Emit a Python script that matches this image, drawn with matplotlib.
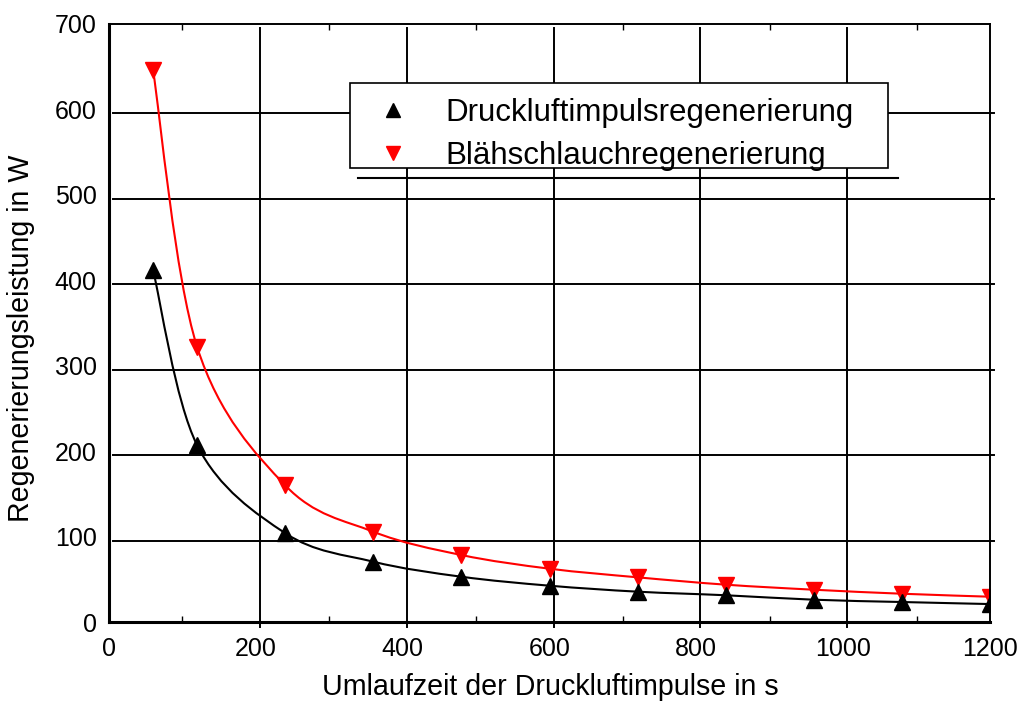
import matplotlib
matplotlib.use("Agg")
import matplotlib.pyplot as plt
from matplotlib.path import Path
from matplotlib.patches import PathPatch, Rectangle
from matplotlib.transforms import ScaledTranslation

plt.rcParams['font.family'] = ['Liberation Sans', 'DejaVu Sans']

# ---- data ----
umlaufzeit = [60, 120, 240, 360, 480, 600, 720, 840, 960, 1080, 1200]
druckluft = [412, 207, 104, 70.6, 53, 42.5, 35.5, 31.3, 26.1, 23.4, 21]
blaeh = [646, 322, 160, 105.7, 78.4, 62.4, 52.3, 43.7, 37.8, 33.1, 29.6]
series_names = ["Druckluftimpulsregenerierung", "Blähschlauchregenerierung"]
x_ticks = [0, 200, 400, 600, 800, 1000, 1200]
y_ticks = [0, 100, 200, 300, 400, 500, 600, 700]
x_label = "Umlaufzeit der Druckluftimpulse in s"
y_label = "Regenerierungsleistung in W"

W, H = 1021, 701
fig = plt.figure(figsize=(W / 100, H / 100), dpi=100)
ax = fig.add_axes([109 / W, 1 - 622 / H, 881 / W, 598 / H])
ax.set_xlim(0, 1200)
ax.set_ylim(0, 700)


def smooth_path(xs, ys):
    pts = list(zip(xs, ys))
    n = len(pts)
    verts = [pts[0]]
    codes = [Path.MOVETO]
    for i in range(n - 1):
        p0 = pts[i - 1] if i > 0 else pts[i]
        p1 = pts[i]
        p2 = pts[i + 1]
        p3 = pts[i + 2] if i + 2 < n else pts[i + 1]
        c1 = (p1[0] + (p2[0] - p0[0]) / 6, p1[1] + (p2[1] - p0[1]) / 6)
        c2 = (p2[0] - (p3[0] - p1[0]) / 6, p2[1] - (p3[1] - p1[1]) / 6)
        verts += [c1, c2, p2]
        codes += [Path.CURVE4] * 3
    return Path(verts, codes)


# grid (shifted slightly, as in the original rendering)
off = ax.transData + ScaledTranslation(4 / 100, -4 / 100, fig.dpi_scale_trans)
for v in x_ticks[1:-1]:
    ax.plot([v, v], [700, -1.2], color='black', lw=1.4, transform=off,
            clip_on=False, zorder=1)
for v in y_ticks[1:-1]:
    ax.plot([0, 1200], [v, v], color='black', lw=1.4, transform=off,
            clip_on=False, zorder=1)

# curves
for ys, col in [(druckluft, 'black'), (blaeh, 'red')]:
    ax.add_patch(PathPatch(smooth_path(umlaufzeit, ys), facecolor='none',
                           edgecolor=col, lw=1.5, zorder=2))
ax.plot(umlaufzeit, blaeh, ls='none', marker='v', ms=11, color='red', zorder=3)
ax.plot(umlaufzeit, druckluft, ls='none', marker='^', ms=11, color='black', zorder=4)

# ticks
ax.set_xticks(x_ticks)
ax.set_yticks(y_ticks)
ax.set_xticks(range(100, 1200, 200), minor=True)
ax.tick_params(axis='both', which='major', length=0, labelsize=18)
ax.tick_params(axis='x', which='major', pad=10.5)
ax.tick_params(axis='y', which='major', pad=9)
ax.tick_params(axis='x', which='minor', direction='in', length=4, width=1,
               top=True, bottom=True)
ax.set_xlabel(x_label, fontsize=20.6, va='top')
ax.set_ylabel(y_label, fontsize=20.6)
ax.xaxis.set_label_coords(0.5006, -0.0853)
ax.yaxis.set_label_coords(-0.084, 0.474)

for side, lw in [('left', 2.2), ('bottom', 2.2), ('top', 1.4), ('right', 1.4)]:
    ax.spines[side].set_linewidth(lw)
    ax.spines[side].set_zorder(6)

# legend (drawn manually to mimic the original box)
ax.add_patch(Rectangle((0.2736, 0.759), 0.884 - 0.2736, 0.9013 - 0.759,
                       transform=ax.transAxes, facecolor='white',
                       edgecolor='black', lw=1.2, zorder=7, clip_on=False))
ax.plot([0.2826, 0.8956], [0.7425, 0.7425], color='black', lw=1.5,
        transform=ax.transAxes, clip_on=False, zorder=7)
for yy, mk, col, name in [(0.856, '^', 'black', series_names[0]),
                          (0.784, 'v', 'red', series_names[1])]:
    ax.plot([0.3224], [yy], marker=mk, ms=10, color=col, ls='none',
            transform=ax.transAxes, clip_on=False, zorder=8)
    ax.text(0.3814, yy - 0.005, name, transform=ax.transAxes, fontsize=22.5,
            va='center', ha='left', zorder=8)

fig.savefig('out.png', dpi=100)
